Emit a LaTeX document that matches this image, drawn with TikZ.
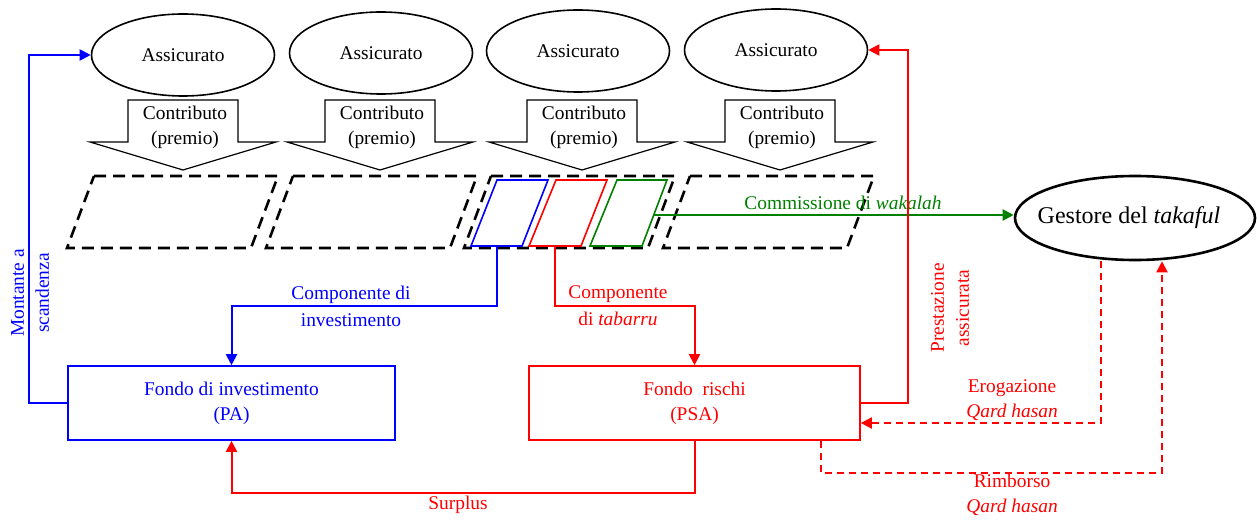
\documentclass[tikz,border=0pt]{standalone}
\usepackage{fontspec}
\setmainfont{Liberation Serif}
\usetikzlibrary{arrows.meta, positioning, shapes.geometric, calc}
\definecolor{tkblue}{HTML}{0000FF}
\definecolor{tkred}{HTML}{FF0000}
\definecolor{tkgreen}{HTML}{008000}

\begin{document}
\begin{tikzpicture}[x=0.5pt, y=-0.5pt,
    font=\fontsize{9.7}{12.5}\selectfont,
    assic/.style={ellipse, draw, line width=0.8pt, minimum width=91.5pt, minimum height=41pt},
    blocco/.style={draw, line width=0.6pt, fill=white},
    cella/.style={draw, line width=1.3pt, dash pattern=on 6pt off 3.5pt},
    quota/.style={draw=#1, line width=0.8pt},
    fondo/.style={rectangle, draw=#1, text=#1, line width=0.8pt, minimum height=37pt, align=center},
    flow/.style={draw=#1, line width=1pt, -{Triangle[length=5.5pt, width=5.5pt]}},
    dflow/.style={flow=tkred, dash pattern=on 3.5pt off 2.5pt},
    lab/.style={align=center, text=#1, inner sep=1pt}
  ]
    \useasboundingbox (0,0) rectangle (1257,519);

    % assicurati e contributi
    \foreach \i/\x/\y in {1/183/55, 2/381/53, 3/578/51, 4/776/50}
      \node[assic] (a\i) at (\x,\y) {Assicurato};
    \foreach \i/\t in {1/183, 2/380, 3/582, 4/780} {
      \draw[blocco] (\t-55,100) -- (\t+55,100) -- (\t+55,142) -- (\t+93,142)
        -- (\t,170) -- (\t-93,142) -- (\t-55,142) -- cycle;
      \node[align=center] (c\i) at (\t+2,127) {Contributo\\(premio)};
    }

    % conti dei partecipanti
    \foreach \x in {94, 293, 491, 690}
      \draw[cella] (\x,176) -- ++(184,0) -- ++(-27,72) -- ++(-184,0) -- cycle;
    \draw[quota=tkblue] (497,180) -- (548,180) -- (522,246) -- (471,246) -- cycle;
    \draw[quota=tkred] (556,180) -- (607,180) -- (581,246) -- (529,246) -- cycle;
    \draw[quota=tkgreen] (617,180) -- (667,180) -- (642,246) -- (590,246) -- cycle;
    \coordinate (blueout) at (497,246);
    \coordinate (redout) at (555,246);
    \coordinate (greenout) at (653,215);

    % fondi e gestore
    \node[fondo=tkblue, minimum width=163.5pt] (pa) at (231.5,403) {Fondo di investimento\\(PA)};
    \node[fondo=tkred, minimum width=165.5pt] (psa) at (694.5,403) {Fondo\ \ rischi\\(PSA)};
    \node[ellipse, draw, line width=1.3pt, inner sep=0pt, minimum width=120pt,
          minimum height=42pt] (gest) at (1135,218) {};
    \node[font=\fontsize{12}{14}\selectfont] (gesttxt) at (1129,218) {Gestore del \textit{takaful}};

    % flussi
    \draw[flow=tkgreen] (greenout) -- (greenout -| gest.west);
    \node[lab=tkgreen] (wak) at (843,203) {Commissione di \textit{wakalah}};

    \draw[flow=tkblue] (blueout) -- ++(0,60) -| (pa.north);
    \node[lab=tkblue] (cinv) at (351,306) {Componente di\\[1pt]investimento};
    \draw[flow=tkred] (redout) -- ++(0,60) -| (psa.north);
    \node[lab=tkred] (ctab) at (618,306) {Componente\\[1pt]di \textit{tabarru}};

    \draw[flow=tkred] (psa.south) -- ++(0,52) -| (pa.south);
    \node[lab=tkred] (surp) at (458,505) {Surplus};

    \draw[flow=tkblue] (pa.west) -- ++(-38,0) |- (a1.west);
    \node[lab=tkblue, rotate=90] (mont) at (30,293) {Montante a\\scandenza};

    \draw[flow=tkred] (psa.east) -- ++(47,0) |- (a4.east);
    \node[lab=tkred, rotate=90] (prest) at (950,308) {Prestazione\\assicurata};

    \draw[dflow] ([xshift=-17pt]gest.south) |- ([yshift=-10pt]psa.east);
    \node[lab=tkred] (erog) at (1012,400) {Erogazione\\\textit{Qard hasan}};
    \draw[dflow] ([xshift=-20pt]psa.south east) -- ++(0,32) -| ([xshift=13.5pt]gest.south);
    \node[lab=tkred] (rimb) at (1012,495) {Rimborso\\\textit{Qard hasan}};
  \end{tikzpicture}
\end{document}
